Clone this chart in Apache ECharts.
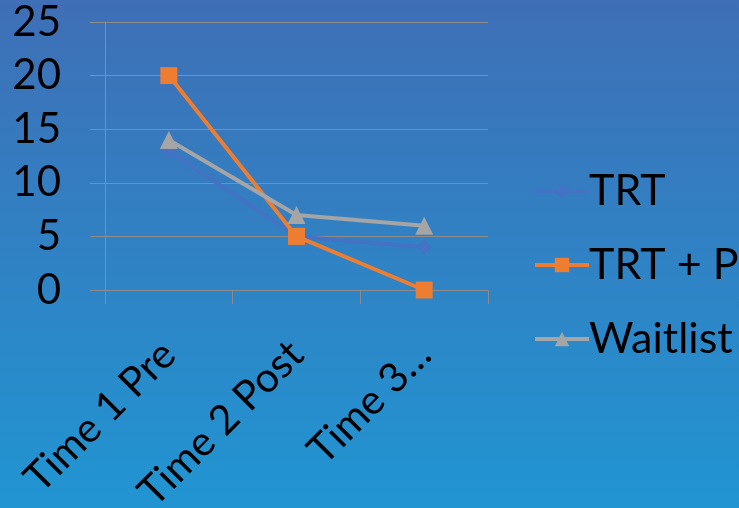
<!DOCTYPE html>
<html><head><meta charset="utf-8">
<script src="https://cdn.jsdelivr.net/npm/echarts@6/dist/echarts.min.js"></script>
<style>html,body{margin:0;padding:0;}#c{width:739px;height:508px;}</style>
</head><body><div id="c"></div>
<script>
const categories = ["Time 1 Pre", "Time 2 Post", "Time 3…"];
const trt = [13, 5, 4];
const trtP = [20, 5, 0];
const waitlist = [14, 7, 6];
const yTicks = [0, 5, 10, 15, 20, 25];

const FONT = "Lato";
const chart = echarts.init(document.getElementById('c'));
chart.setOption({
  backgroundColor: {type:'linear', x:0, y:0, x2:0, y2:1, colorStops:[{offset:0,color:'#3f6fb6'},{offset:1,color:'#2195d2'}]},
  animation:false,
  textStyle:{fontFamily:FONT},
  grid:{left:105, top:22, width:383, height:268, containLabel:false, outerBoundsMode:'none'},
  legend:{
    orient:'vertical', left:528, top:164, itemWidth:54, itemHeight:18, itemGap:30,
    lineStyle:{width:4},
    textStyle:{fontFamily:FONT, fontSize:43, color:'#000', lineHeight:44, padding:[0,0,0,-5]},
    data:['TRT','TRT + P','Waitlist']
  },
  xAxis:{
    type:'category', data:categories, boundaryGap:true,
    axisLine:{show:true, lineStyle:{color:'#8c8c8c', width:1}},
    axisTick:{show:true, length:14, lineStyle:{color:'#8c8c8c'}},
    axisLabel:{rotate:45, fontSize:41, color:'#000', fontFamily:FONT, margin:58, interval:0}
  },
  yAxis:{
    type:'value', min:yTicks[0], max:yTicks[yTicks.length-1], interval:5,
    axisLine:{show:true, lineStyle:{color:'#8c8c8c', width:1}},
    axisTick:{show:true, length:15, lineStyle:{color:'#8c8c8c'}},
    splitLine:{show:true, lineStyle:{color:'#8c8c8c', width:1}},
    axisLabel:{fontSize:42, color:'#000', fontFamily:FONT, margin:44}
  },
  series:[
    {name:'TRT', type:'line', data:trt, symbol:'diamond', symbolSize:15, lineStyle:{width:4, color:'#4472c4'}, itemStyle:{color:'#4472c4'}},
    {name:'TRT + P', type:'line', data:trtP, symbol:'rect', symbolSize:17, lineStyle:{width:4, color:'#ed7d31'}, itemStyle:{color:'#ed7d31'}},
    {name:'Waitlist', type:'line', data:waitlist, symbol:'triangle', symbolSize:18, lineStyle:{width:4, color:'#a5a5a5'}, itemStyle:{color:'#a5a5a5'}}
  ]
});
</script></body></html>
